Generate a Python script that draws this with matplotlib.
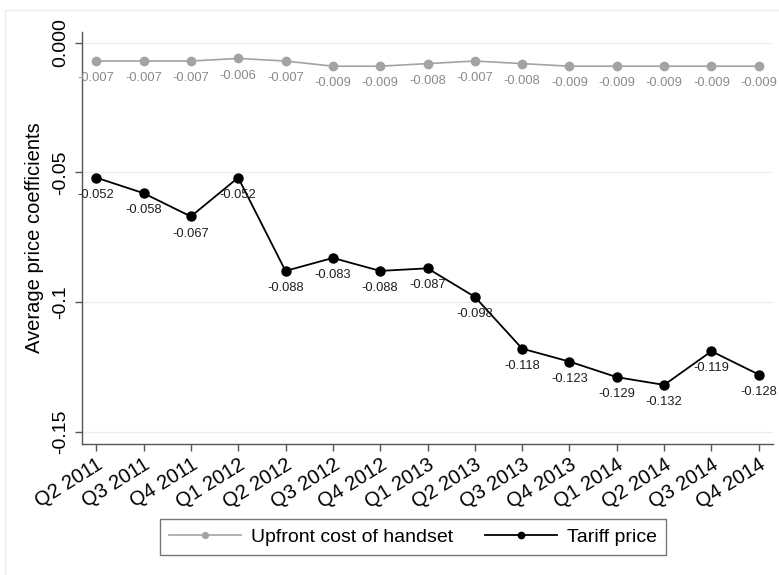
import numpy as np
import matplotlib.pyplot as plt
from matplotlib.lines import Line2D

plt.rcParams['font.family'] = ['Liberation Sans', 'DejaVu Sans']

quarters = ["Q2 2011", "Q3 2011", "Q4 2011", "Q1 2012", "Q2 2012", "Q3 2012",
            "Q4 2012", "Q1 2013", "Q2 2013", "Q3 2013", "Q4 2013", "Q1 2014",
            "Q2 2014", "Q3 2014", "Q4 2014"]
upfront = [-0.007, -0.007, -0.007, -0.006, -0.007, -0.009, -0.009, -0.008,
           -0.007, -0.008, -0.009, -0.009, -0.009, -0.009, -0.009]
tariff = [-0.052, -0.058, -0.067, -0.052, -0.088, -0.083, -0.088, -0.087,
          -0.098, -0.118, -0.123, -0.129, -0.132, -0.119, -0.128]
yticks = [0.0, -0.05, -0.1, -0.15]
ytick_labels = ["0.000", "-0.05", "-0.1", "-0.15"]

x = np.arange(len(quarters))

fig = plt.figure(figsize=(7.79, 5.75), dpi=100)
ax = fig.add_axes([82/779, 1 - 444/575, (773 - 82)/779, (444 - 32)/575])

# faint outer border of graph region
fig.add_artist(Line2D([5/779, 1], [1 - 10/575, 1 - 10/575], color="#e6eeee", lw=1))
fig.add_artist(Line2D([5/779, 5/779], [0, 1 - 10/575], color="#e6eeee", lw=1))

gray = "#a3a3a3"
ax.plot(x, upfront, color=gray, lw=1.2, marker="o", ms=6, label="Upfront cost of handset")
ax.plot(x, tariff, color="black", lw=1.3, marker="o", ms=6.5, label="Tariff price")

for xi, v in zip(x, upfront):
    ax.annotate("%.3f" % v, (xi, v), xytext=(0, -8), textcoords="offset points",
                ha="center", va="top", fontsize=9.3, color="#8a8a8a")
for xi, v in zip(x, tariff):
    ax.annotate("%.3f" % v, (xi, v), xytext=(0, -8), textcoords="offset points",
                ha="center", va="top", fontsize=9.3, color="#1e1e1e")

ax.set_xlim(-0.3, 14.3)
ax.set_ylim(-0.1548, 0.0042)

ax.set_yticks(yticks)
ax.set_yticklabels(ytick_labels, rotation=90, va="center", fontsize=14)
ax.set_xticks(x)
ax.set_xticklabels(quarters, rotation=32, ha="right", rotation_mode="anchor", fontsize=14.5)
ax.tick_params(axis="both", direction="out", length=5, width=1, color="#555555")
ax.tick_params(axis="y", pad=4)
ax.tick_params(axis="x", pad=3)

ax.grid(axis="y", color="#e6eff1", lw=1)
ax.set_axisbelow(True)
for s in ["top", "right"]:
    ax.spines[s].set_visible(False)
for s in ["left", "bottom"]:
    ax.spines[s].set_color("#555555")
    ax.spines[s].set_linewidth(1)

ax.set_ylabel("Average price coefficients", fontsize=14.5, labelpad=6)

leg = fig.legend(loc="center", bbox_to_anchor=(413/779, 1 - 537/575), ncol=2,
                 fontsize=14, frameon=True, fancybox=False, edgecolor="#555555",
                 handlelength=3.7, handletextpad=0.55, columnspacing=1.6,
                 borderpad=0.45, borderaxespad=0, markerscale=0.7)
leg.get_frame().set_linewidth(1)

fig.savefig("out.png", dpi=100)
